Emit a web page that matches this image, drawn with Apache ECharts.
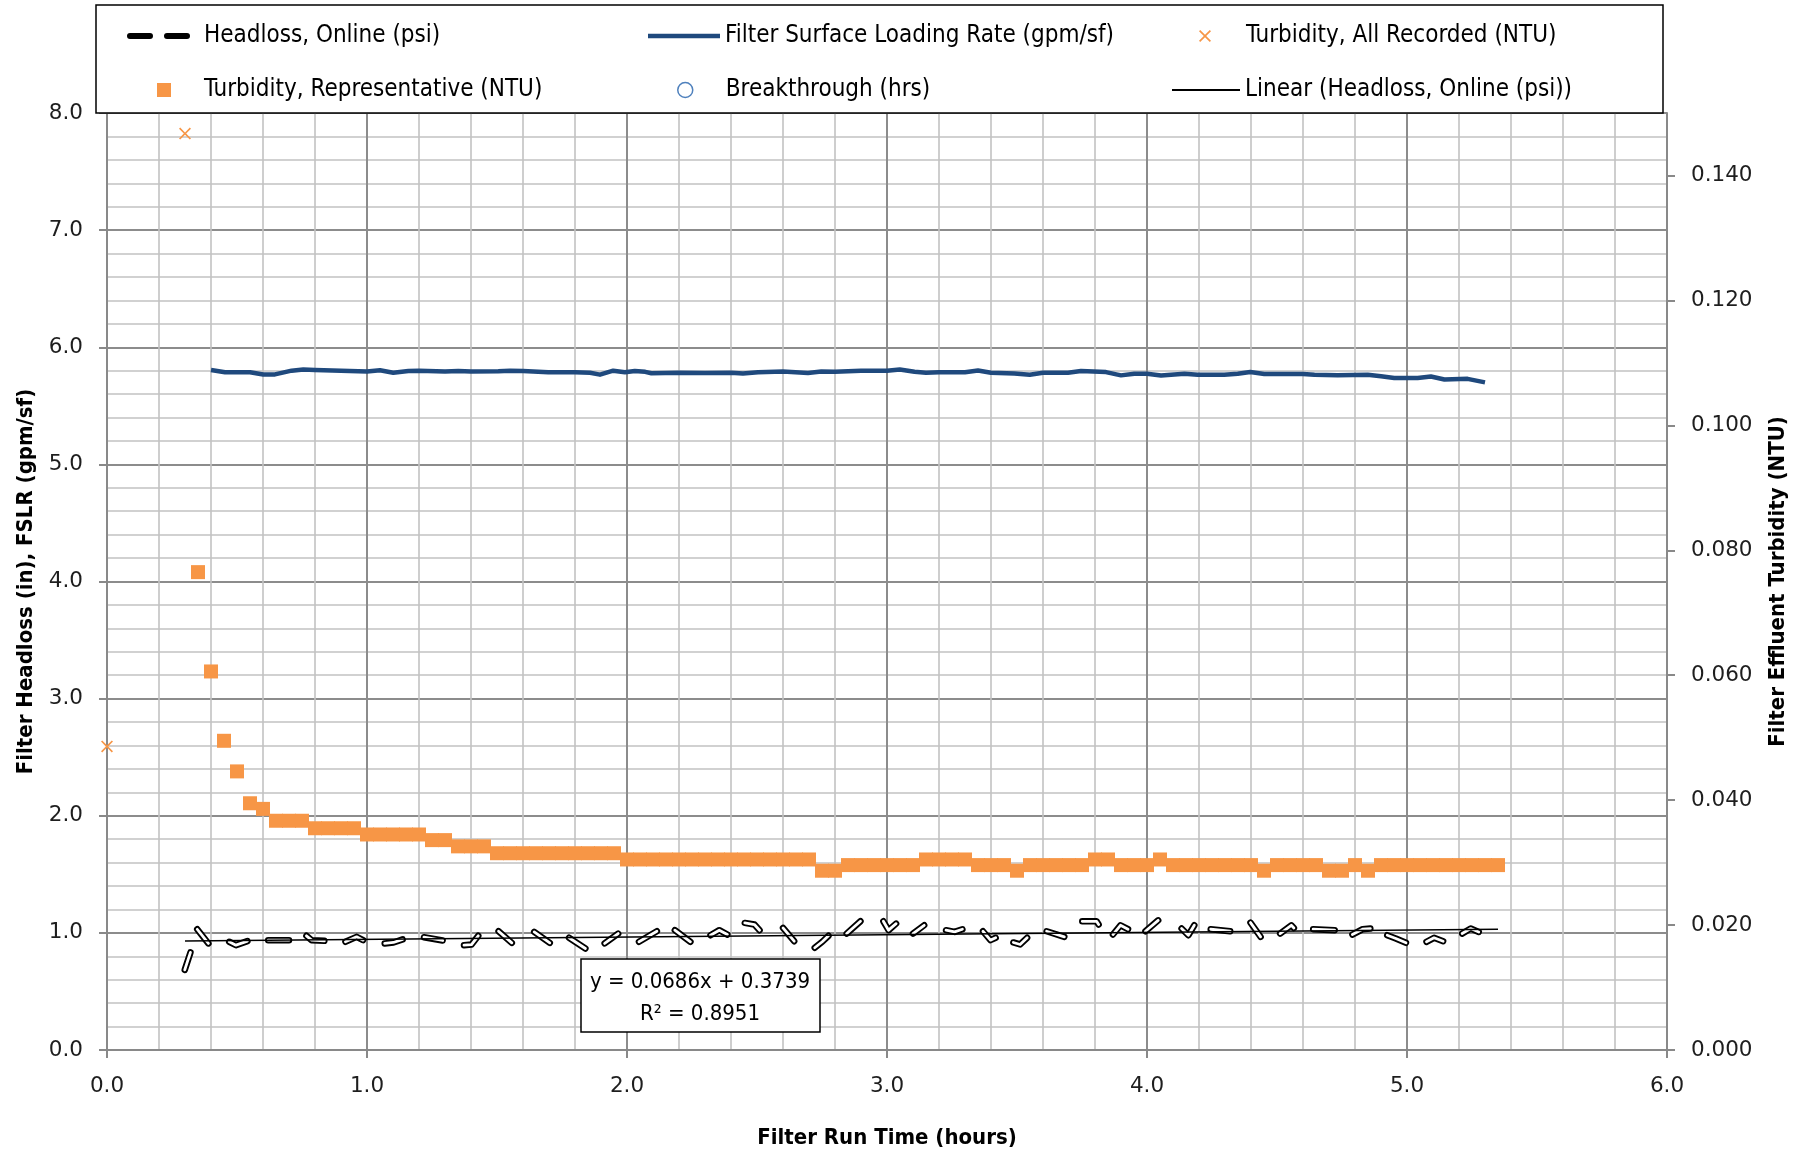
<!DOCTYPE html>
<html><head><meta charset="utf-8">
<script src="https://cdn.jsdelivr.net/npm/echarts@6/dist/echarts.min.js"></script>
<style>html,body{margin:0;padding:0;background:#fff}#c{width:1808px;height:1154px}</style>
</head><body><div id="c"></div><script>
// ---------- DATA ----------
const fslrTime = [0.40,0.454,0.55,0.601,0.646,0.71,0.755,0.80,0.90,1.00,1.05,1.101,1.159,1.20,1.30,1.351,1.40,1.505,1.55,1.60,1.697,1.80,1.858,1.896,1.947,1.992,2.03,2.07,2.094,2.20,2.299,2.40,2.446,2.504,2.60,2.696,2.747,2.80,2.90,3.00,3.049,3.106,3.15,3.20,3.30,3.35,3.40,3.49,3.549,3.60,3.696,3.746,3.842,3.90,3.951,4.00,4.054,4.144,4.195,4.297,4.349,4.397,4.451,4.60,4.644,4.733,4.849,4.90,4.951,5.041,5.092,5.144,5.233,5.30];
const fslrValue = [5.806,5.787,5.787,5.768,5.768,5.80,5.81,5.806,5.80,5.792,5.803,5.782,5.797,5.80,5.792,5.797,5.792,5.795,5.80,5.797,5.787,5.787,5.782,5.766,5.80,5.787,5.798,5.79,5.778,5.783,5.781,5.783,5.775,5.787,5.792,5.781,5.792,5.79,5.80,5.80,5.81,5.79,5.782,5.787,5.787,5.801,5.782,5.776,5.766,5.782,5.782,5.797,5.788,5.760,5.774,5.774,5.758,5.774,5.765,5.765,5.774,5.788,5.772,5.772,5.765,5.760,5.765,5.752,5.737,5.737,5.750,5.725,5.730,5.700];

const repTime = [0.35,0.40,0.45,0.50,0.55,0.60,0.65,0.70,0.75,0.80,0.85,0.90,0.95,1.00,1.05,1.10,1.15,1.20,1.25,1.30,1.35,1.40,1.45,1.50,1.55,1.60,1.65,1.70,1.75,1.80,1.85,1.90,1.95,2.00,2.05,2.10,2.15,2.20,2.25,2.30,2.35,2.40,2.45,2.50,2.55,2.60,2.65,2.70,2.75,2.80,2.85,2.90,2.95,3.00,3.05,3.10,3.15,3.20,3.25,3.30,3.35,3.40,3.45,3.50,3.55,3.60,3.65,3.70,3.75,3.80,3.85,3.90,3.95,4.00,4.05,4.10,4.15,4.20,4.25,4.30,4.35,4.40,4.45,4.50,4.55,4.60,4.65,4.70,4.75,4.80,4.85,4.90,4.95,5.00,5.05,5.10,5.15,5.20,5.25,5.30,5.35];
const repNTU = [0.0765,0.0606,0.0495,0.0446,0.0395,0.0386,0.0367,0.0367,0.0367,0.0355,0.0355,0.0355,0.0355,0.0345,0.0345,0.0345,0.0345,0.0345,0.0336,0.0336,0.0326,0.0326,0.0326,0.0315,0.0315,0.0315,0.0315,0.0315,0.0315,0.0315,0.0315,0.0315,0.0315,0.0305,0.0305,0.0305,0.0305,0.0305,0.0305,0.0305,0.0305,0.0305,0.0305,0.0305,0.0305,0.0305,0.0305,0.0305,0.0287,0.0287,0.0296,0.0296,0.0296,0.0296,0.0296,0.0296,0.0305,0.0305,0.0305,0.0305,0.0296,0.0296,0.0296,0.0287,0.0296,0.0296,0.0296,0.0296,0.0296,0.0305,0.0305,0.0296,0.0296,0.0296,0.0305,0.0296,0.0296,0.0296,0.0296,0.0296,0.0296,0.0296,0.0287,0.0296,0.0296,0.0296,0.0296,0.0287,0.0287,0.0296,0.0287,0.0296,0.0296,0.0296,0.0296,0.0296,0.0296,0.0296,0.0296,0.0296,0.0296];

const allTime = [0.0, 0.30];
const allNTU = [0.0486, 0.1467];

// each dash of the "Headloss, Online" line
const headlossDashes = [
 [[0.299,0.684],[0.321,0.833]],
 [[0.347,1.031],[0.390,0.910]],
 [[0.470,0.924],[0.496,0.895],[0.540,0.930]],
 [[0.620,0.938],[0.700,0.938]],
 [[0.767,0.975],[0.787,0.938],[0.836,0.932]],
 [[0.917,0.924],[0.960,0.966],[0.985,0.938]],
 [[1.068,0.910],[1.102,0.918],[1.137,0.944]],
 [[1.219,0.963],[1.291,0.935]],
 [[1.373,0.895],[1.402,0.900],[1.428,0.975]],
 [[1.506,1.014],[1.557,0.915]],
 [[1.643,1.008],[1.703,0.915]],
 [[1.777,0.958],[1.840,0.867]],
 [[1.914,0.910],[1.966,0.994]],
 [[2.046,0.924],[2.115,1.014]],
 [[2.184,1.023],[2.244,0.924]],
 [[2.321,0.980],[2.355,1.023],[2.386,0.986]],
 [[2.453,1.085],[2.490,1.071],[2.510,1.023]],
 [[2.600,1.042],[2.643,0.929]],
 [[2.722,0.873],[2.751,0.924],[2.775,0.975]],
 [[2.845,0.994],[2.898,1.099]],
 [[2.986,1.099],[3.006,1.023],[3.035,1.079]],
 [[3.100,0.994],[3.143,1.065]],
 [[3.227,1.023],[3.260,1.008],[3.290,1.031]],
 [[3.369,1.014],[3.398,0.938],[3.418,0.958]],
 [[3.486,0.918],[3.512,0.901],[3.539,0.958]],
 [[3.614,1.014],[3.682,0.966]],
 [[3.751,1.099],[3.806,1.099],[3.814,1.071]],
 [[3.869,0.986],[3.898,1.065],[3.927,1.031]],
 [[3.994,1.014],[4.043,1.107]],
 [[4.133,1.037],[4.159,0.980],[4.182,1.065]],
 [[4.245,1.031],[4.320,1.014]],
 [[4.398,1.088],[4.437,0.966]],
 [[4.512,0.994],[4.555,1.065],[4.565,1.042]],
 [[4.639,1.031],[4.722,1.023]],
 [[4.790,0.986],[4.829,1.031],[4.859,1.037]],
 [[4.924,0.980],[4.957,0.952],[4.996,0.915]],
 [[5.075,0.924],[5.104,0.958],[5.139,0.929]],
 [[5.212,0.994],[5.245,1.037],[5.276,1.008]]
];

const trendTime = [0.30, 5.35];
const trendValue = [0.931, 1.031];

const rightTickValues = [0, 0.02, 0.04, 0.06, 0.08, 0.10, 0.12, 0.14];
const equationLines = ['y = 0.0686x + 0.3739', 'R\u00b2 = 0.8951'];

// ---------- BUILD ----------
const NARROW = '"Liberation Sans Narrow","DejaVu Sans Condensed","Open Sans",sans-serif';
const TICKFONT = '"DejaVu Sans",Verdana,sans-serif';
const ORANGE = '#F79646', BLUE = '#1F497D', CIRCLE = '#4F81BD';
const XICON = 'path://M0,1L1,0L5,4L9,0L10,1L6,5L10,9L9,10L5,6L1,10L0,9L4,5Z';
const DASHICON = 'path://M3,0H23A3,3 0 0 1 23,6H3A3,3 0 0 1 3,0Z M40,0H60A3,3 0 0 1 60,6H40A3,3 0 0 1 40,0Z';

const headlossData = [];
headlossDashes.forEach(d => { d.forEach(p => headlossData.push(p)); headlossData.push([d[d.length-1][0] + 0.001, '-']); });

const chart = echarts.init(document.getElementById('c'), null, {renderer: 'canvas'});
const legendText = {fontFamily: NARROW, fontSize: 24, color: '#000'};
function lg(item, left, top, w, h, pad) {
  return {data: [item], left: left, top: top, padding: 0, itemWidth: w, itemHeight: h,
    selectedMode: false, orient: 'horizontal', itemGap: 0,
    textStyle: Object.assign({}, legendText, {padding: [0, 0, 0, pad]})};
}
const axisGray = '#898989';
const titleStyle = {fontFamily: NARROW, fontWeight: 'bold', fontSize: 22, color: '#000'};
const tickStyle = {fontFamily: TICKFONT, fontSize: 21.5, color: '#1e1e1e'};
const option = {
  animation: false,
  backgroundColor: '#fff',
  grid: {left: 107, right: 141, top: 113, bottom: 99, containLabel: false},
  legend: [
    lg({name: 'Headloss, Online (psi)', icon: DASHICON, itemStyle: {color: '#000', borderWidth: 0}}, 127, 24, 63, 6, 9),
    lg({name: 'Filter Surface Loading Rate (gpm/sf)', icon: 'rect', itemStyle: {color: BLUE, borderWidth: 0}}, 648, 24, 72, 4.5, 0),
    lg({name: 'Turbidity, All Recorded (NTU)', icon: XICON, itemStyle: {color: ORANGE, borderWidth: 0}}, 1199, 24, 12, 12, 30),
    lg({name: 'Turbidity, Representative (NTU)', icon: 'rect', itemStyle: {color: ORANGE, borderWidth: 0, opacity: 1}}, 157, 78, 14, 14, 28),
    lg({name: 'Breakthrough (hrs)', icon: 'circle', itemStyle: {color: '#fff', borderColor: CIRCLE, borderWidth: 1.5}}, 677, 78, 15, 15, 28),
    lg({name: 'Linear (Headloss, Online (psi))', icon: 'rect', itemStyle: {color: '#000', borderWidth: 0}}, 1172, 78, 68, 1.8, 0)
  ],
  xAxis: {
    type: 'value', min: 0, max: 6, interval: 1,
    name: 'Filter Run Time (hours)', nameLocation: 'middle', nameGap: 77,
    nameTextStyle: titleStyle,
    axisLine: {show: true, onZero: false, lineStyle: {color: axisGray, width: 2}},
    axisTick: {show: true, length: 8, lineStyle: {color: axisGray, width: 2}},
    axisLabel: Object.assign({formatter: v => v.toFixed(1), margin: 25}, tickStyle),
    splitLine: {show: true, lineStyle: {color: '#8c8c8c', width: 2}},
    minorTick: {show: false, splitNumber: 5},
    minorSplitLine: {show: true, lineStyle: {color: '#c2c2c2', width: 1.6}}
  },
  yAxis: [{
    type: 'value', min: 0, max: 8, interval: 1, position: 'left',
    name: 'Filter Headloss (in), FSLR (gpm/sf)', nameLocation: 'middle', nameGap: 70,
    nameTextStyle: titleStyle,
    axisLine: {show: true, onZero: false, lineStyle: {color: axisGray, width: 2}},
    axisTick: {show: true, length: 8, lineStyle: {color: axisGray, width: 2}},
    axisLabel: Object.assign({formatter: v => v.toFixed(1), margin: 24}, tickStyle),
    splitLine: {show: true, lineStyle: {color: '#8c8c8c', width: 2}},
    minorTick: {show: false, splitNumber: 5},
    minorSplitLine: {show: true, lineStyle: {color: '#c2c2c2', width: 1.6}}
  }, {
    type: 'value', min: 0, max: 0.15, interval: 0.02, position: 'right',
    name: 'Filter Effluent Turbidity (NTU)', nameLocation: 'middle', nameGap: 100,
    nameTextStyle: titleStyle,
    axisLine: {show: true, onZero: false, lineStyle: {color: axisGray, width: 2}},
    axisTick: {show: true, length: 8, lineStyle: {color: axisGray, width: 2}, customValues: rightTickValues},
    axisLabel: Object.assign({formatter: v => v.toFixed(3), margin: 24, customValues: rightTickValues}, tickStyle),
    splitLine: {show: false}
  }],
  graphic: [
    {type: 'rect', z: 1, shape: {x: 96, y: 5, width: 1567, height: 108}, style: {fill: '#fff', stroke: '#000', lineWidth: 1.5}},
    {type: 'rect', z: 100, shape: {x: 581, y: 959, width: 239, height: 73}, style: {fill: '#fff', stroke: '#000', lineWidth: 1.5}},
    {type: 'text', z: 101, x: 700, y: 982, style: {text: equationLines[0], fill: '#000', font: '22px ' + NARROW, textAlign: 'center', textVerticalAlign: 'middle'}},
    {type: 'text', z: 101, x: 700, y: 1014, style: {text: equationLines[1], fill: '#000', font: '22px ' + NARROW, textAlign: 'center', textVerticalAlign: 'middle'}}
  ],
  series: [
    {name: 'Turbidity, Representative (NTU)', type: 'scatter', yAxisIndex: 1, symbol: 'rect', symbolSize: 14,
     itemStyle: {color: ORANGE, opacity: 1}, data: repTime.map((t, i) => [t, repNTU[i]]), z: 3, silent: true},
    {name: 'Turbidity, All Recorded (NTU)', type: 'scatter', yAxisIndex: 1, symbol: XICON, symbolSize: 12,
     itemStyle: {color: ORANGE, opacity: 1}, data: allTime.map((t, i) => [t, allNTU[i]]), z: 4, silent: true, clip: false},
    {name: 'Breakthrough (hrs)', type: 'scatter', yAxisIndex: 1, symbol: 'emptyCircle', symbolSize: 15,
     itemStyle: {color: CIRCLE, opacity: 1}, data: [], silent: true},
    {name: 'Filter Surface Loading Rate (gpm/sf)', type: 'line', symbol: 'none', showSymbol: false,
     lineStyle: {color: BLUE, width: 4.5, join: 'round'}, itemStyle: {color: BLUE},
     data: fslrTime.map((t, i) => [t, fslrValue[i]]), z: 5, silent: true},
    {name: 'Headloss, Online (psi)', type: 'line', symbol: 'none', showSymbol: false, connectNulls: false,
     lineStyle: {color: '#000', width: 6.5, cap: 'round', join: 'round'}, itemStyle: {color: '#000'},
     data: headlossData, z: 6, silent: true},
    {name: 'headloss-inner', type: 'line', symbol: 'none', showSymbol: false, connectNulls: false,
     lineStyle: {color: '#fff', width: 2.8, cap: 'round', join: 'round'}, itemStyle: {color: '#fff'},
     data: headlossData, z: 7, silent: true},
    {name: 'Linear (Headloss, Online (psi))', type: 'line', symbol: 'none', showSymbol: false,
     lineStyle: {color: '#000', width: 1.6}, itemStyle: {color: '#000'},
     data: trendTime.map((t, i) => [t, trendValue[i]]), z: 8, silent: true}
  ]
};
chart.setOption(option);
</script></body></html>
